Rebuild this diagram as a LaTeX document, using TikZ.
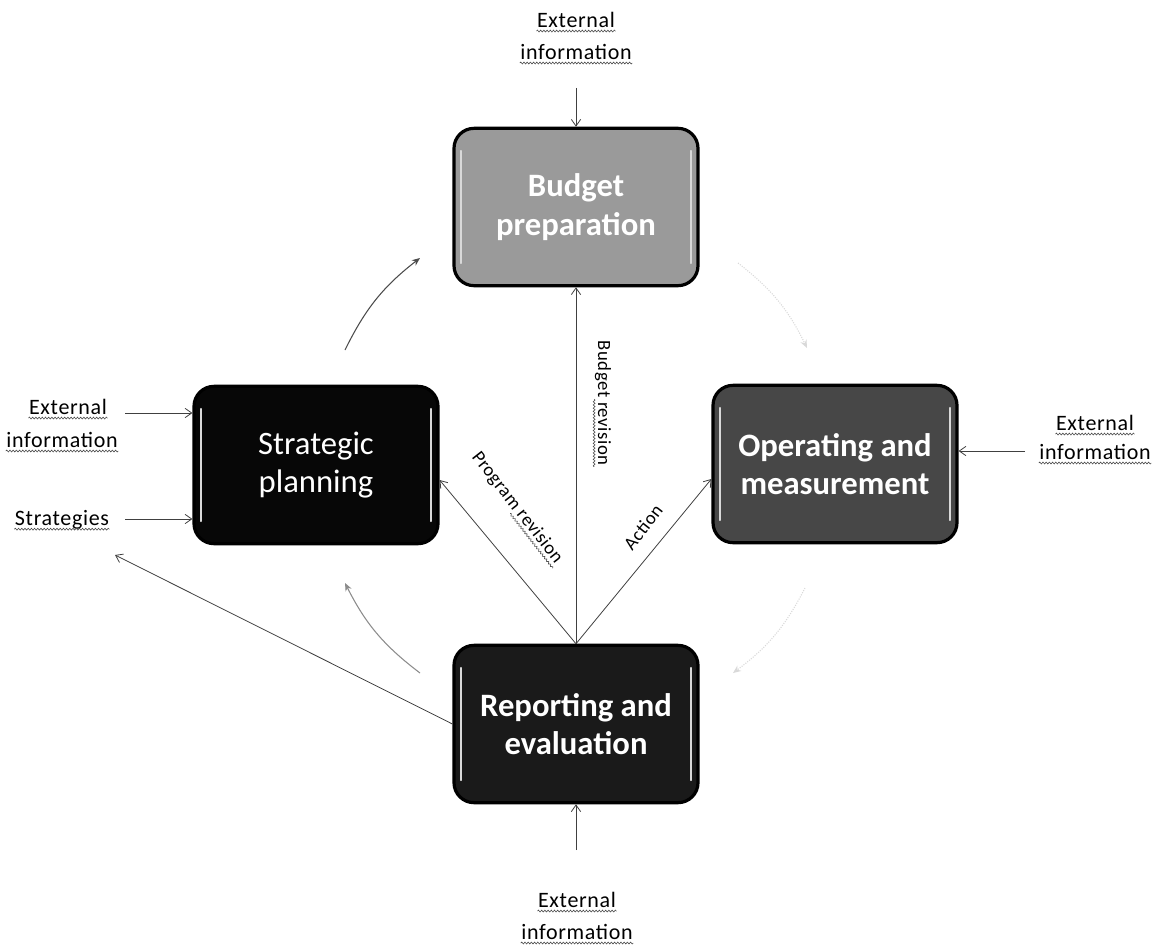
\documentclass[tikz,border=0pt]{standalone}
\usepackage{fontspec}
\setmainfont{Carlito}
\newfontfamily\spacedfont{Carlito}[LetterSpace=3]
\usetikzlibrary{arrows.meta,calc,decorations.pathmorphing}

\definecolor{bpgray}{HTML}{9A9A9A}
\definecolor{opgray}{HTML}{474747}
\definecolor{spblack}{HTML}{070707}
\definecolor{rpblack}{HTML}{1A1A1A}

\tikzset{
  stage/.style={draw=black, line width=2.4pt, rounded corners=15pt,
    minimum width=183pt, minimum height=118pt, inner sep=0pt,
    text=white, align=center, font=\fontsize{24.5}{29}\selectfont},
  bold stage/.style={stage, font=\bfseries\fontsize{24.5}{29}\selectfont},
  gloss/.style={draw=white!85!black, line width=1.4pt, line cap=round},
  flow/.style={draw=black!75, line width=0.6pt, -{Straight Barb[length=5pt,width=7pt]}},
  turn/.style={line width=0.8pt, -{Stealth[length=6pt,width=5pt]}},
  extlabel/.style={font=\spacedfont\fontsize{16.5}{20}\selectfont, inner sep=1pt},
  edgelabel/.style={font=\spacedfont\fontsize{14}{17}\selectfont, inner sep=1pt},
  squiggle/.style={draw=black!70, line width=0.45pt,
    decorate, decoration={snake, amplitude=0.7pt, segment length=2.4pt}},
}

\begin{document}
\begin{tikzpicture}[x=0.75pt,y=0.75pt,yscale=-1,xscale=1]
\useasboundingbox (0,0) rectangle (1160,949);

%Rounded Rect: the four stages
\node[bold stage, fill=bpgray] (bp) at (576,207) {Budget\\preparation};
\node[stage, fill=spblack] (sp) at (316,465) {Strategic\\planning};
\node[bold stage, fill=opgray] (om) at (835,464) {Operating and\\measurement};
\node[bold stage, fill=rpblack] (rp) at (576,724) {Reporting and\\evaluation};

% glossy edges
\foreach \b in {bp,sp,om,rp}{
  \draw[gloss] ($(\b.north west)+(9,24)$) -- ($(\b.south west)+(9,-24)$);
  \draw[gloss] ($(\b.north east)+(-9,24)$) -- ($(\b.south east)+(-9,-24)$);
}

% Text Node
\node[extlabel] (ext t1) at (576,20) {External};
\node[extlabel] (ext t2) at (576,52) {information};
\node[extlabel] (ext l1) at (68,407) {External};
\node[extlabel] (ext l2) at (62,440) {information};
\node[extlabel] (strat) at (62,520) {Strategies};
\node[extlabel] (ext r1) at (1095,423) {External};
\node[extlabel] (ext r2) at (1095,452) {information};
\node[extlabel] (ext b1) at (577,900) {External};
\node[extlabel] (ext b2) at (577,932) {information};

%Straight Lines: outside inputs
\coordinate (top in) at (576,88);
\coordinate (bot in) at (576,850);
\coordinate (left in) at (125,413);
\coordinate (strat in) at (125,519);
\coordinate (right in) at (1025,451);
\coordinate (strat tip) at (115,555);
\draw[flow] (top in) -- (bp.north);
\draw[flow] (bot in) -- (rp.south);
\draw[flow] (left in) -- (left in -| sp.west);
\draw[flow] (strat in) -- (strat in -| sp.west);
\draw[flow] (right in) -- (right in -| om.east);

%Straight Lines: revisions out of reporting
\draw[flow] (rp.north) -- (bp.south);
\draw[flow] (rp.north) -- ($(sp.east)+(0,15)$);
\draw[flow] (rp.north) -- ($(om.west)+(0,15)$);
\draw[flow] (rp.west) -- (strat tip);

% Text Node
\node[edgelabel, rotate=-90] (bud rev) at (603,403) {Budget revision};
\node[edgelabel, rotate=-52] (prog rev) at (517,508) {Program revision};
\node[edgelabel, rotate=52] (act) at (643,527) {Action};

% spelling marks
\foreach \n in {ext t1,ext t2,ext l1,ext l2,strat,ext r1,ext r2,ext b1,ext b2}
  \draw[squiggle] ($(\n.base west)+(1,3.5)$) -- ($(\n.base east)+(-1,3.5)$);
\foreach \n/\f in {bud rev/0.47,prog rev/0.5}{
  \coordinate (w) at ($(\n.base west)!\f!(\n.base east)$);
  \draw[squiggle] ($(w)!3pt!90:(\n.base east)$) -- ($(\n.base east)!3pt!-90:(w)$);
}

%Curve Lines: the cycle
\draw[turn, black!70] (345,350) to[bend right=13] (420,258);
\draw[turn, black!15, densely dotted] (738,263) to[bend right=13] (807,348);
\draw[turn, black!15, densely dotted] (805,588) to[bend right=13] (733,673);
\draw[turn, black!45] (420,673) to[bend right=13] (345,583);

\end{tikzpicture}
\end{document}
